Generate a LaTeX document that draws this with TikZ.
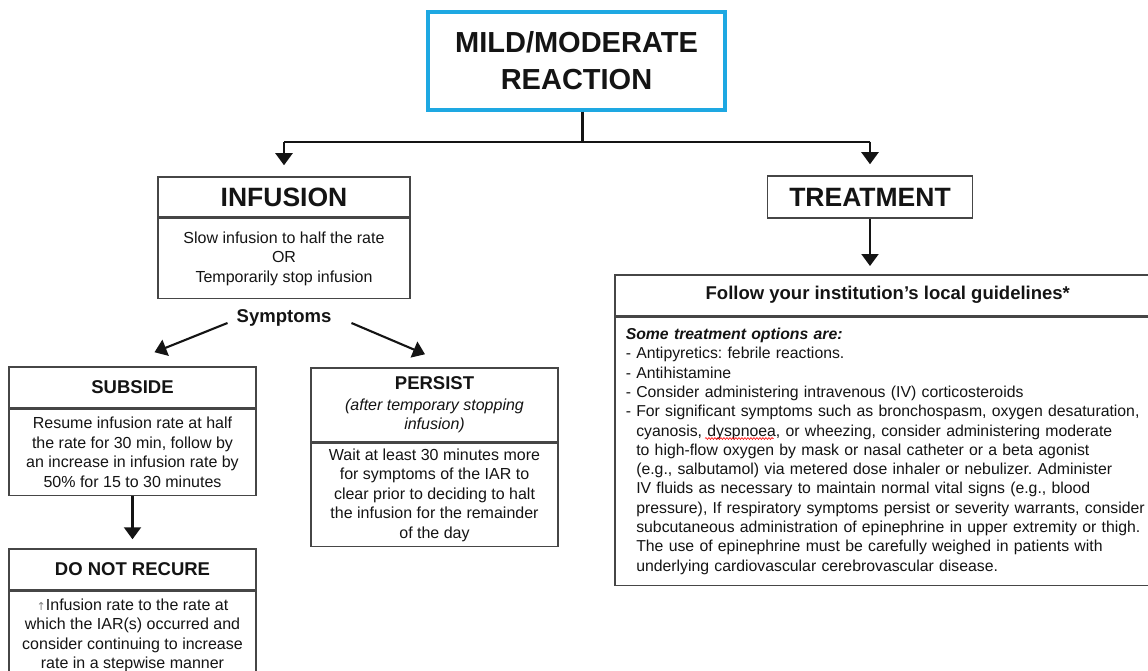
\documentclass[tikz,border=0pt]{standalone}
\usepackage{fontspec}
\setmainfont{Liberation Sans}
\newfontfamily\symfont{DejaVu Sans}
\usetikzlibrary{arrows.meta,decorations.pathmorphing}
\definecolor{mblue}{RGB}{30,168,226}
\definecolor{txt}{RGB}{20,20,20}
\definecolor{bord}{RGB}{70,70,70}
\newcommand\hd{\hphantom{- }}
\frenchspacing
\begin{document}
\begin{tikzpicture}[x=1pt,y=-1pt,
  box/.style={draw=bord,line width=1.5pt,rectangle,inner sep=0pt,text=txt,align=center},
  headfont/.style={font=\fontsize{26.5}{30}\selectfont\bfseries},
  subfont/.style={font=\fontsize{18.5}{21}\selectfont\bfseries},
  bodyfont/.style={font=\fontsize{16}{19.5}\selectfont},
  conn/.style={draw=txt,line width=2.1pt},
  arrow/.style={conn,-{Triangle[width=17pt,length=12pt]}},
  spellwave/.style={draw=red,line width=0.6pt,decorate,decoration={snake,amplitude=0.9pt,segment length=3pt}}]
\useasboundingbox (0,0) rectangle (1148,671);
\clip (0,0) rectangle (1148,671);
\fill[white] (0,0) rectangle (1148,671);

% top
\node[box,draw=mblue,line width=3.5pt,minimum width=297pt,minimum height=98pt,
  font=\fontsize{29}{37}\selectfont\bfseries] (main) at (576.5,61) {MILD/MODERATE\\REACTION};

% infusion
\node[box,headfont,minimum width=252pt,minimum height=40pt] (infH) at (284,197) {INFUSION};
\node[box,bodyfont,minimum width=252pt,minimum height=80pt,anchor=north] (infB) at (infH.south)
  {Slow infusion to half the rate\\OR\\Temporarily stop infusion};

% treatment
\node[box,headfont,minimum width=205pt,minimum height=42pt] (trH) at (870,197) {TREATMENT};
\node[box,subfont,minimum width=546pt,minimum height=41pt,anchor=north west] (folH) at (614,274)
  {Follow your institution’s local guidelines*};
\node[box,align=left,anchor=north west,text width=560pt,inner xsep=11pt,minimum height=268pt,
  font=\fontsize{15.8}{19.3}\selectfont] (folB) at (folH.south west)
  {\textbf{\textit{Some treatment options are:}}\\
  - Antipyretics: febrile reactions.\\
  - Antihistamine\\
  - Consider administering intravenous (IV) corticosteroids\\
  - For significant symptoms such as bronchospasm, oxygen desaturation,\\
  \hd cyanosis, dyspnoea, or wheezing, consider administering moderate\\
  \hd to high-flow oxygen by mask or nasal catheter or a beta agonist\\
  \hd (e.g., salbutamol) via metered dose inhaler or nebulizer. Administer\\
  \hd IV fluids as necessary to maintain normal vital signs (e.g., blood\\
  \hd pressure), If respiratory symptoms persist or severity warrants, consider\\
  \hd subcutaneous administration of epinephrine in upper extremity or thigh.\\
  \hd The use of epinephrine must be carefully weighed in patients with\\
  \hd underlying cardiovascular cerebrovascular disease.};
% spell-check underline under "dyspnoea"
\draw[spellwave] (705,438.5) -- (773.5,438.5);

% symptoms
\node[subfont,text=txt,inner sep=0pt] (sym) at (284,318) {Symptoms};

% subside
\node[box,subfont,minimum width=247pt,minimum height=41pt] (subH) at (132.5,387.5) {SUBSIDE};
\node[box,bodyfont,minimum width=247pt,minimum height=86pt,anchor=north] (subB) at (subH.south)
  {Resume infusion rate at half\\the rate for 30 min, follow by\\an increase in infusion rate by\\50\% for 15 to 30 minutes};

% do not recure
\node[box,subfont,minimum width=247pt,minimum height=41pt] (dnrH) at (132.5,569.5) {DO NOT RECURE};
\node[box,bodyfont,minimum width=247pt,minimum height=88pt,anchor=north] (dnrB) at (dnrH.south)
  {{\symfont\color{gray}\fontsize{11}{11}\selectfont ↑}Infusion rate to the rate at\\which the IAR(s) occurred and\\consider continuing to increase\\rate in a stepwise manner};

% persist
\node[box,bodyfont,minimum width=247pt,minimum height=74pt] (persH) at (434.5,405)
  {{\fontsize{18.5}{21}\selectfont\bfseries PERSIST}\\[1pt]{\itshape (after temporary stopping}\\{\itshape infusion)}};
\node[box,bodyfont,minimum width=247pt,minimum height=103pt,anchor=north] (persB) at (persH.south)
  {Wait at least 30 minutes more\\for symptoms of the IAR to\\clear prior to deciding to halt\\the infusion for the remainder\\of the day};

% connectors
\draw[conn] ([xshift=6pt]main.south) -- ++(0,30) coordinate (split);
\draw[conn] (infH.north |- split) -- (trH.north |- split);
\draw[arrow,shorten >=11pt] (infH.north |- split) -- (infH.north);
\draw[arrow,shorten >=11pt] (trH.north |- split) -- (trH.north);
\draw[arrow,shorten >=8pt] (trH.south) -- (trH.south |- folH.north);
\draw[arrow] ([xshift=-9pt,yshift=-5pt]sym.west) -- ([xshift=22pt,yshift=14pt]subH.north);
\draw[arrow] ([xshift=20pt,yshift=-5pt]sym.east) -- ([xshift=-9.5pt,yshift=13pt]persH.north);
\draw[arrow,shorten >=9pt] (subB.south) -- (dnrH.north);
\end{tikzpicture}
\end{document}
